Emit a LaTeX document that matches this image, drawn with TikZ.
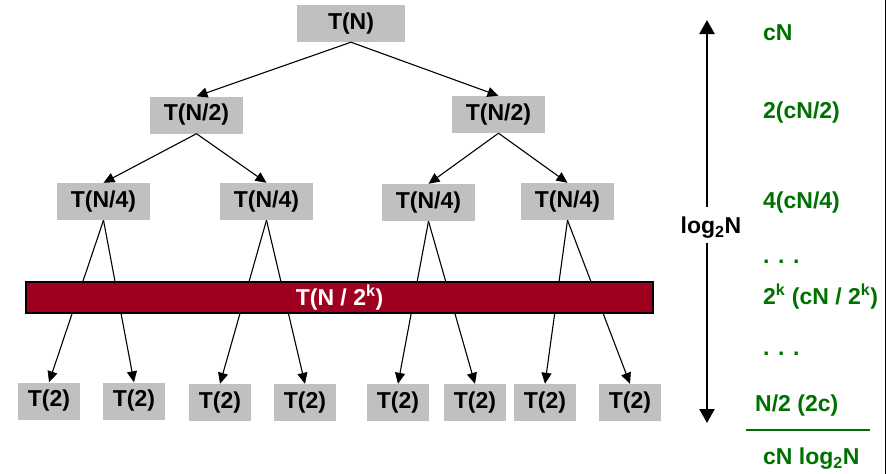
\documentclass[tikz,border=0pt]{standalone}
\usepackage{fontspec}
\setmainfont{Liberation Sans}
\usetikzlibrary{arrows.meta}
\definecolor{boxgray}{RGB}{192,192,192}
\definecolor{barred}{RGB}{160,0,32}
\definecolor{sumgreen}{RGB}{0,112,0}
\begin{document}
\begin{tikzpicture}[x=1pt,y=-1pt,
  font=\fontsize{23}{27}\selectfont\bfseries,
  tbox/.style={fill=boxgray, minimum height=37pt, inner sep=0pt, text=black},
  wide/.style={tbox, minimum width=93pt},
  leaf/.style={tbox, minimum width=62pt},
  edge/.style={-{Triangle[length=11pt,width=10pt]}, line width=1.1pt},
  bigarrow/.style={-{Triangle[length=14pt,width=15pt]}, line width=2.2pt},
  sumtxt/.style={text=sumgreen, anchor=west, inner sep=0pt}]
\useasboundingbox (0,0) rectangle (892,474);

% tree nodes
\node[tbox, minimum width=108pt] (n) at (351,23.5) {T(N)};
\node[wide] (l) at (196.5,115) {T(N/2)};
\node[wide] (r) at (498.5,114.5) {T(N/2)};
\node[wide] (ll) at (103.5,201.5) {T(N/4)};
\node[wide] (lr) at (266.5,201.5) {T(N/4)};
\node[wide] (rl) at (428.5,202.5) {T(N/4)};
\node[wide] (rr) at (567.5,201.5) {T(N/4)};
\node[leaf] (a1) at (49,401) {T(2)};
\node[leaf] (a2) at (134,401) {T(2)};
\node[leaf] (a3) at (220,402.5) {T(2)};
\node[leaf] (a4) at (305,402.5) {T(2)};
\node[leaf] (a5) at (398,402.5) {T(2)};
\node[leaf] (a6) at (475,402.5) {T(2)};
\node[leaf] (a7) at (545,402.5) {T(2)};
\node[leaf] (a8) at (630,402.5) {T(2)};

% edges
\draw[edge] (n.south) -- (l.north);
\draw[edge] (n.south) -- (r.north);
\draw[edge] (l.south) -- (ll.north);
\draw[edge] (l.south) -- (lr.north);
\draw[edge] (r.south) -- (rl.north);
\draw[edge] (r.south) -- (rr.north);
\draw[edge] (ll.south) -- (a1.north);
\draw[edge] (ll.south) -- (a2.north);
\draw[edge] (lr.south) -- (a3.north);
\draw[edge] (lr.south) -- (a4.north);
\draw[edge] (rl.south) -- (a5.north);
\draw[edge] (rl.south) -- (a6.north);
\draw[edge] (rr.south) -- (a7.north);
\draw[edge] (rr.south) -- (a8.north);

% bar on top
\node[fill=barred, draw=black, line width=1.2pt, minimum width=627pt, minimum height=31pt,
      inner sep=0pt, text=white] (bar) at (339.5,297.5) {T(N / 2\textsuperscript{k})};

% height arrow
\coordinate (atop) at (707,20);
\coordinate (abot) at (707,423);
\coordinate (lgup) at (707,207);
\coordinate (lgdn) at (707,243);
\node (lg) at (711,228) {log\textsubscript{2}N};
\draw[bigarrow] (lgup) -- (atop);
\draw[bigarrow] (lgdn) -- (abot);

% sums
\node[sumtxt] (s1) at (763,33) {cN};
\node[sumtxt] (s2) at (763,113) {2(cN/2)};
\node[sumtxt] (s3) at (763,203) {4(cN/4)};
\node[sumtxt] (s4) at (763,262) {. . .};
\node[sumtxt] (s5) at (763,297) {2\textsuperscript{k} (cN / 2\textsuperscript{k})};
\node[sumtxt] (s6) at (763,354) {. . .};
\node[sumtxt] (s7) at (755,406) {N/2 (2c)};
\coordinate (g1) at (746,430);
\coordinate (g2) at (870,430);
\draw[sumgreen, line width=2.5pt] (g1) -- (g2);
\node[sumtxt] (s8) at (763,459) {cN log\textsubscript{2}N};

% right border
\coordinate (b1) at (885.5,0);
\coordinate (b2) at (885.5,474);
\draw[line width=1.5pt] (b1) -- (b2);
\end{tikzpicture}
\end{document}
